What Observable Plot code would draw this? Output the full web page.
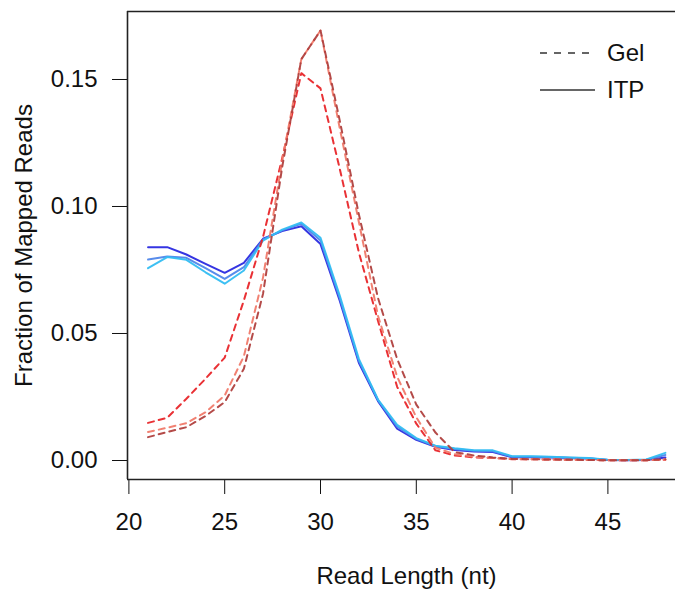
<!DOCTYPE html>
<html><head><meta charset="utf-8">
<script src="https://cdn.jsdelivr.net/npm/d3@7"></script>
<script src="https://cdn.jsdelivr.net/npm/@observablehq/plot@0.6"></script>
<style>body{margin:0;background:#fff;}</style>
</head><body><div id="chart"></div>
<script>
const readLength = [21,22,23,24,25,26,27,28,29,30,31,32,33,34,35,36,37,38,39,40,41,42,43,44,45,46,47,48];
const gelA = [0.0148,0.0168,0.0243,0.0322,0.0405,0.0630,0.0880,0.1190,0.1525,0.1465,0.1150,0.0820,0.0550,0.0290,0.0145,0.0040,0.0020,0.0012,0.0010,0.0005,0.0005,0.0004,0.0003,0.0002,0.0001,0.0001,0.0001,0.0003];
const gelB = [0.0112,0.0129,0.0147,0.0190,0.0256,0.0410,0.0720,0.1180,0.1580,0.1693,0.1310,0.0940,0.0570,0.0330,0.0170,0.0050,0.0025,0.0015,0.0010,0.0006,0.0005,0.0004,0.0003,0.0002,0.0001,0.0001,0.0001,0.0004];
const gelC = [0.0092,0.0112,0.0131,0.0175,0.0230,0.0361,0.0656,0.1155,0.1580,0.1693,0.1340,0.0970,0.0640,0.0400,0.0220,0.0110,0.0033,0.0020,0.0012,0.0006,0.0005,0.0004,0.0003,0.0002,0.0001,0.0001,0.0001,0.0005];
const itpA = [0.0840,0.0840,0.0811,0.0774,0.0739,0.0778,0.0873,0.0903,0.0922,0.0852,0.0630,0.0385,0.0234,0.0125,0.0081,0.0054,0.0041,0.0035,0.0033,0.0013,0.0013,0.0012,0.0010,0.0008,0.0002,0.0001,0.0002,0.0012];
const itpB = [0.0791,0.0803,0.0798,0.0757,0.0715,0.0761,0.0870,0.0906,0.0932,0.0866,0.0640,0.0392,0.0238,0.0133,0.0085,0.0056,0.0045,0.0038,0.0036,0.0015,0.0015,0.0014,0.0011,0.0009,0.0002,0.0002,0.0003,0.0022];
const itpC = [0.0757,0.0801,0.0790,0.0741,0.0696,0.0748,0.0866,0.0909,0.0937,0.0877,0.0650,0.0400,0.0240,0.0140,0.0088,0.0058,0.0048,0.0040,0.0040,0.0017,0.0017,0.0015,0.0012,0.0010,0.0003,0.0002,0.0004,0.0030];

const seriesValues = [itpA, itpB, itpC, gelA, gelB, gelC];
const seriesMethod = ["ITP","ITP","ITP","Gel","Gel","Gel"];
const seriesColors = ["#2a2ae0","#4f86ea","#33bdf2","#e8262a","#f07a6a","#b0403e"];
const xTicks = [20,25,30,35,40,45];
const yTicks = [0.00,0.05,0.10,0.15];
const legendLabels = ["Gel","ITP"];
const xLabel = "Read Length (nt)";
const yLabel = "Fraction of Mapped Reads";

const xDomain = [19.927, 48.528];
const yDomain = [-0.00748, 0.17677];
const dashOf = m => m === "Gel" ? "6,5" : null;
const FS = 24;

const lineMarks = seriesValues.map((vals, i) => {
  const rows = readLength.map((len, j) => ({len, v: vals[j]}));
  return Plot.line(rows, {x: "len", y: "v", stroke: seriesColors[i], strokeWidth: 2,
    strokeDasharray: dashOf(seriesMethod[i]), strokeOpacity: 0.95});
});

function legendMark(index, scales, values, dims) {
  const g = d3.create("svg:g");
  const W = dims.width;
  legendLabels.forEach((lab, i) => {
    const y = 53 + i * 37;
    g.append("line").attr("x1", W - 135).attr("x2", W - 80).attr("y1", y).attr("y2", y)
      .attr("stroke", "#333").attr("stroke-width", 1.3)
      .attr("stroke-dasharray", lab === "Gel" ? "7,7" : null);
    g.append("text").attr("x", W - 68).attr("y", y).attr("dy", "0.35em")
      .attr("text-anchor", "start")
      .attr("fill", "#111").attr("font-size", FS).text(lab);
  });
  return g.node();
}

const chart = Plot.plot({
  width: 675, height: 596,
  marginLeft: 127, marginRight: 0, marginTop: 11, marginBottom: 117,
  style: {fontSize: FS + "px", fontFamily: "'Liberation Sans', Arial, Helvetica, sans-serif", color: "#111", background: "#fff"},
  x: {domain: xDomain, ticks: xTicks, tickSize: 15, tickPadding: 18, label: null, tickFormat: d => String(d)},
  y: {domain: yDomain, ticks: yTicks, tickSize: 15, tickPadding: 15, label: null, tickFormat: d3.format(".2f")},
  marks: [
    ...lineMarks,
    Plot.ruleY([yDomain[1], yDomain[0]], {stroke: "#222", strokeWidth: 1.6}),
    Plot.ruleX([xDomain[0]], {stroke: "#222", strokeWidth: 1.6}),
    Plot.text([yLabel], {frameAnchor: "left", dx: -103, rotate: -90, textAnchor: "middle", fontSize: FS, fill: "#111"}),
    Plot.text([xLabel], {frameAnchor: "bottom", dy: 104, dx: 5, textAnchor: "middle", fontSize: FS, fill: "#111"}),
    legendMark
  ]
});
document.getElementById("chart").appendChild(chart);
</script>
</body></html>
